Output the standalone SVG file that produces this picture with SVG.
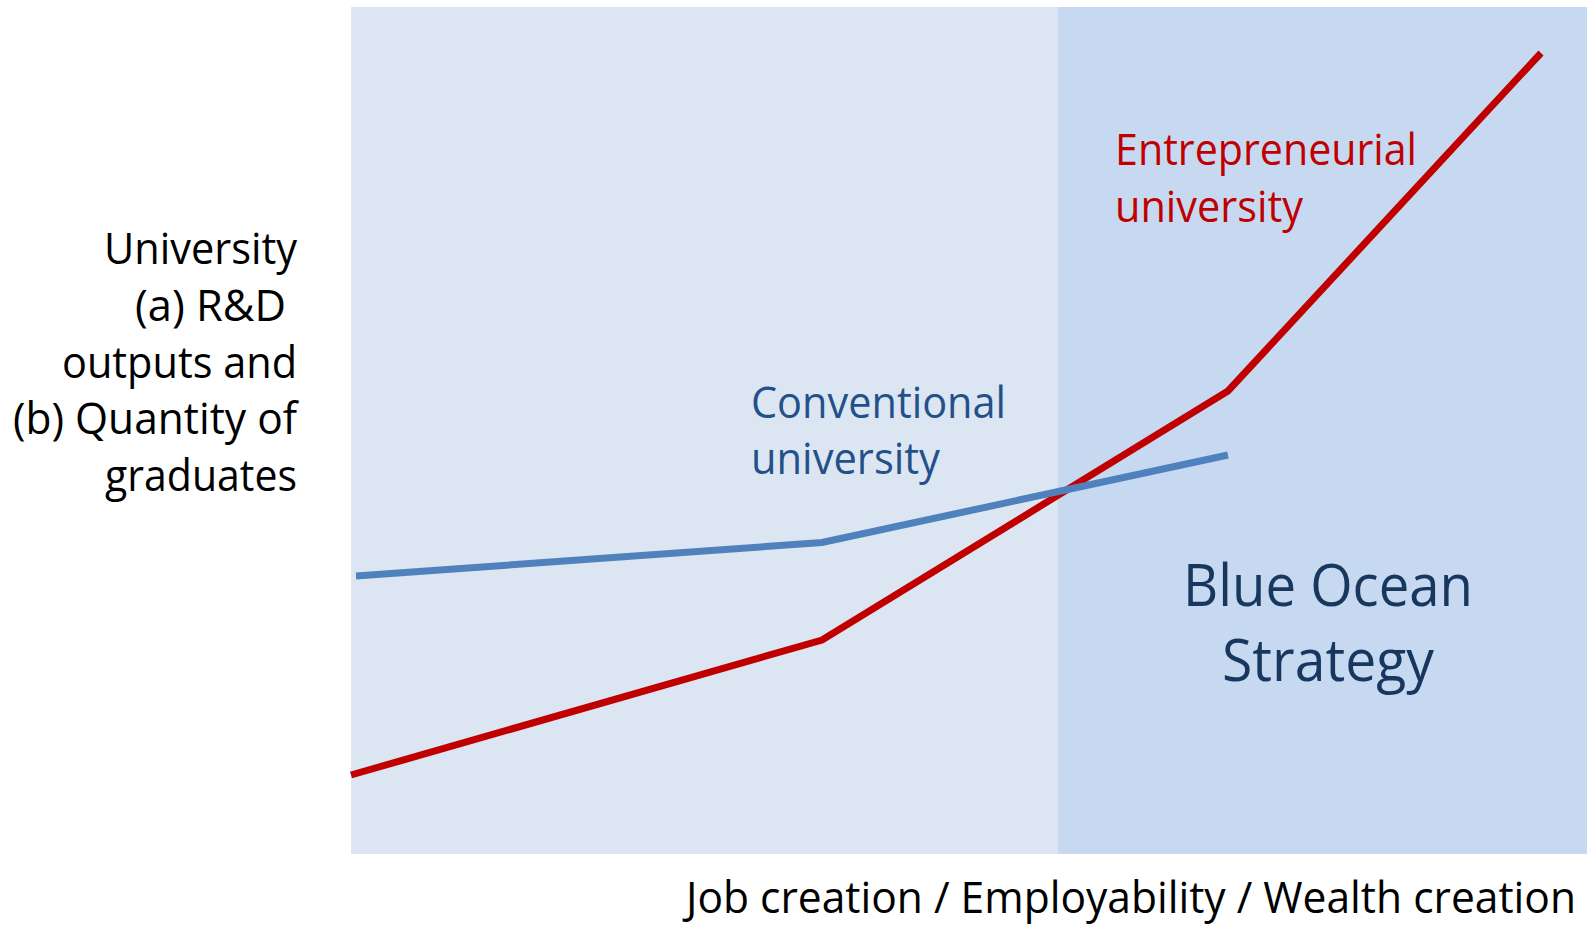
<svg xmlns="http://www.w3.org/2000/svg" width="1587" height="927" viewBox="0 0 1587 927">
  <style>
    .t { font-family: "Open Sans", "Noto Sans", "Liberation Sans", sans-serif; }
    .lbl { font-size: 44px; fill: #000000; }
    .xl { font-size: 43px; fill: #000000; }
    .red { font-size: 44px; fill: #C00000; }
    .conv { font-size: 44px; fill: #24508A; }
    .bos { font-size: 59px; fill: #17375E; }
    .curve { fill: none; stroke-width: 7; stroke-linejoin: miter; stroke-linecap: butt; }
  </style>
  <rect x="0" y="0" width="1587" height="927" fill="#FFFFFF"/>
  <g id="background">
    <rect id="conventional-zone" x="351" y="7" width="707" height="847" fill="#DCE6F2"/>
    <rect id="blue-ocean-zone" x="1058" y="7" width="529" height="847" fill="#C6D9F1"/>
  </g>
  <g id="connectors">
    <polyline id="entrepreneurial-line" class="curve" stroke="#C00000" points="351,775 822,640 1228,391 1541,53"/>
    <polyline id="conventional-line" class="curve" stroke="#4F81BD" points="356,576 822,542.5 1228,455"/>
  </g>
  <g id="y-axis-label" class="t lbl">
    <text x="104" y="264" textLength="193" lengthAdjust="spacingAndGlyphs">University</text>
    <text x="135" y="321" textLength="151" lengthAdjust="spacingAndGlyphs">(a) R&amp;D</text>
    <text x="62" y="378" textLength="235" lengthAdjust="spacingAndGlyphs">outputs and</text>
    <text x="13" y="434" textLength="284" lengthAdjust="spacingAndGlyphs">(b) Quantity of</text>
    <text x="105" y="491" textLength="192" lengthAdjust="spacingAndGlyphs">graduates</text>
  </g>
  <g id="entrepreneurial-label" class="t red">
    <text x="1115" y="165" textLength="302" lengthAdjust="spacingAndGlyphs">Entrepreneurial</text>
    <text x="1115" y="222" textLength="188" lengthAdjust="spacingAndGlyphs">university</text>
  </g>
  <g id="conventional-label" class="t conv">
    <text x="751" y="418" textLength="255" lengthAdjust="spacingAndGlyphs">Conventional</text>
    <text x="751" y="474" textLength="189" lengthAdjust="spacingAndGlyphs">university</text>
  </g>
  <g id="blue-ocean-label" class="t bos">
    <text x="1183" y="606" textLength="290" lengthAdjust="spacingAndGlyphs">Blue Ocean</text>
    <text x="1222" y="681" textLength="212" lengthAdjust="spacingAndGlyphs">Strategy</text>
  </g>
  <g id="x-axis-label" class="t xl">
    <text x="686" y="913" textLength="890" lengthAdjust="spacingAndGlyphs">Job creation / Employability / Wealth creation</text>
  </g>
</svg>
